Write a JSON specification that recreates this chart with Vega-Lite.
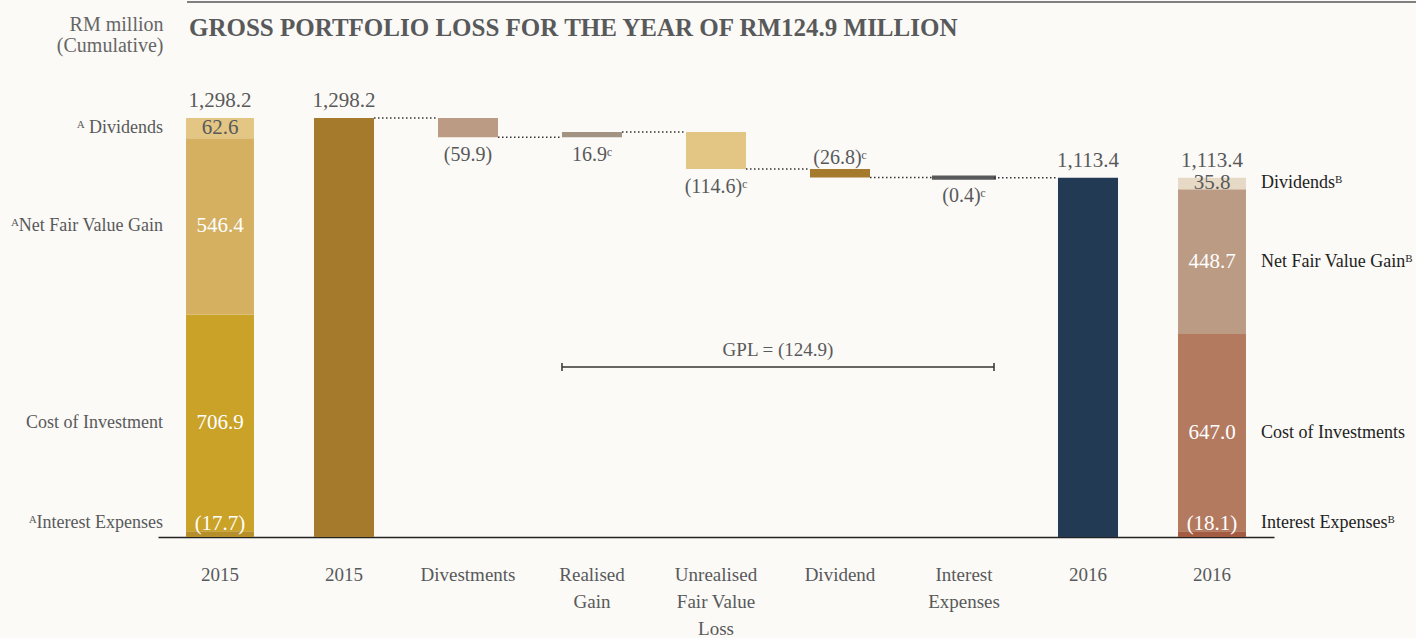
{
  "$schema": "https://vega.github.io/schema/vega-lite/v6.json",
  "width": 1116,
  "height": 477,
  "autosize": {"type": "none"},
  "padding": {"left": 158, "top": 60, "right": 142, "bottom": 101},
  "background": "#fbfaf6",
  "title": {
    "text": "GROSS PORTFOLIO LOSS FOR THE YEAR OF RM124.9 MILLION",
    "anchor": "start",
    "frame": "group",
    "dx": 31,
    "offset": -60,
    "baseline": "alphabetic",
    "font": "Liberation Serif",
    "fontSize": 25,
    "fontWeight": "bold",
    "color": "#58595b"
  },
  "config": {
    "view": {"stroke": null},
    "text": {"font": "Liberation Serif"},
    "axisX": {
      "domain": true,
      "domainColor": "#222222",
      "domainWidth": 1.5,
      "ticks": false,
      "tickSize": 0,
      "grid": false,
      "labelPadding": 28,
      "labelAngle": 0,
      "labelFont": "Liberation Serif",
      "labelFontSize": 19,
      "labelColor": "#58595b",
      "labelLineHeight": 27,
      "labelBaseline": "top",
      "labelExpr": "datum.value == 'Realised Gain' ? ['Realised', 'Gain'] : datum.value == 'Unrealised Fair Value Loss' ? ['Unrealised', 'Fair Value', 'Loss'] : datum.value == 'Interest Expenses' ? ['Interest', 'Expenses'] : replace(datum.value, ' composition', '')"
    },
    "axisY": {
      "labels": false,
      "ticks": false,
      "domain": false,
      "grid": false,
      "titleAngle": 0,
      "titleAlign": "right",
      "titleBaseline": "alphabetic",
      "titleX": 5,
      "titleY": -30,
      "titleFont": "Liberation Serif",
      "titleFontSize": 20,
      "titleFontWeight": "normal",
      "titleColor": "#666666",
      "titleLineHeight": 21
    }
  },
  "datasets": {
    "bars": [
      {"step": "2015 composition", "kind": "breakdown", "segment": "2015 Interest Expenses", "part": "Interest Expenses", "start": 0, "end": 17.7, "text": "(17.7)", "side": "ᴬInterest Expenses"},
      {"step": "2015 composition", "kind": "breakdown", "segment": "2015 Cost of Investment", "part": "Cost of Investment", "start": 17.7, "end": 689.2, "text": "706.9", "side": "Cost of Investment"},
      {"step": "2015 composition", "kind": "breakdown", "segment": "2015 Net Fair Value Gain", "part": "Net Fair Value Gain", "start": 689.2, "end": 1235.6, "text": "546.4", "side": "ᴬNet Fair Value Gain"},
      {"step": "2015 composition", "kind": "breakdown", "segment": "2015 Dividends", "part": "Dividends", "start": 1235.6, "end": 1298.2, "text": "62.6", "side": "ᴬ Dividends"},
      {"step": "2015", "kind": "waterfall", "segment": "2015", "part": "Total", "start": 0, "end": 1298.2, "text": "1,298.2", "side": ""},
      {"step": "Divestments", "kind": "waterfall", "segment": "Divestments", "part": "Change", "start": 1298.2, "end": 1238.3, "text": "(59.9)", "side": ""},
      {"step": "Realised Gain", "kind": "waterfall", "segment": "Realised Gain", "part": "Change", "start": 1238.3, "end": 1255.2, "text": "16.9ᶜ", "side": ""},
      {"step": "Unrealised Fair Value Loss", "kind": "waterfall", "segment": "Unrealised Fair Value Loss", "part": "Change", "start": 1255.2, "end": 1140.6, "text": "(114.6)ᶜ", "side": ""},
      {"step": "Dividend", "kind": "waterfall", "segment": "Dividend", "part": "Change", "start": 1140.6, "end": 1113.8, "text": "(26.8)ᶜ", "side": ""},
      {"step": "Interest Expenses", "kind": "waterfall", "segment": "Interest Expenses", "part": "Change", "start": 1113.8, "end": 1113.4, "text": "(0.4)ᶜ", "side": ""},
      {"step": "2016", "kind": "waterfall", "segment": "2016", "part": "Total", "start": 0, "end": 1113.4, "text": "1,113.4", "side": ""},
      {"step": "2016 composition", "kind": "breakdown", "segment": "2016 Interest Expenses", "part": "Interest Expenses", "start": 0, "end": 18.1, "text": "(18.1)", "side": "Interest Expensesᴮ"},
      {"step": "2016 composition", "kind": "breakdown", "segment": "2016 Cost of Investments", "part": "Cost of Investments", "start": 18.1, "end": 628.9, "text": "647.0", "side": "Cost of Investments"},
      {"step": "2016 composition", "kind": "breakdown", "segment": "2016 Net Fair Value Gain", "part": "Net Fair Value Gain", "start": 628.9, "end": 1077.6, "text": "448.7", "side": "Net Fair Value Gainᴮ"},
      {"step": "2016 composition", "kind": "breakdown", "segment": "2016 Dividends", "part": "Dividends", "start": 1077.6, "end": 1113.4, "text": "35.8", "side": "Dividendsᴮ"}
    ],
    "totals": [
      {"step": "2015 composition", "total": 1298.2},
      {"step": "2015", "total": 1298.2},
      {"step": "2016", "total": 1113.4},
      {"step": "2016 composition", "total": 1113.4}
    ],
    "connectors": [
      {"from": "2015", "to": "Divestments", "level": 1298.2},
      {"from": "Divestments", "to": "Realised Gain", "level": 1238.3},
      {"from": "Realised Gain", "to": "Unrealised Fair Value Loss", "level": 1255.2},
      {"from": "Unrealised Fair Value Loss", "to": "Dividend", "level": 1140.6},
      {"from": "Dividend", "to": "Interest Expenses", "level": 1113.8},
      {"from": "Interest Expenses", "to": "2016", "level": 1113.4}
    ]
  },
  "layer": [
    {
      "data": {"name": "bars"},
      "transform": [{"filter": "datum.kind == 'breakdown'"}],
      "mark": {"type": "bar", "width": {"band": 0.548}},
      "encoding": {
        "x": {
          "field": "step",
          "type": "nominal",
          "title": null,
          "scale": {
            "domain": ["2015 composition", "2015", "Divestments", "Realised Gain", "Unrealised Fair Value Loss", "Dividend", "Interest Expenses", "2016", "2016 composition"],
            "paddingInner": 0,
            "paddingOuter": 0
          }
        },
        "y": {
          "field": "start",
          "type": "quantitative",
          "title": ["RM million", "(Cumulative)"],
          "scale": {"domain": [0, 1478], "nice": false, "zero": false}
        },
        "y2": {"field": "end"},
        "color": {
          "field": "segment",
          "type": "nominal",
          "legend": null,
          "scale": {
            "domain": ["2015 Interest Expenses", "2015 Cost of Investment", "2015 Net Fair Value Gain", "2015 Dividends", "2015", "Divestments", "Realised Gain", "Unrealised Fair Value Loss", "Dividend", "Interest Expenses", "2016", "2016 Interest Expenses", "2016 Cost of Investments", "2016 Net Fair Value Gain", "2016 Dividends"],
            "range": ["#b68f2a", "#c9a227", "#d4b060", "#e3c684", "#a57a2c", "#bb9b83", "#a39382", "#e3c684", "#a57a2c", "#58595b", "#223a53", "#a35c41", "#b37a5f", "#bb9b83", "#e6d9c5"]
          }
        }
      }
    },
    {
      "data": {"name": "bars"},
      "transform": [{"filter": "datum.kind == 'waterfall'"}],
      "mark": {"type": "bar", "width": {"band": 0.484}, "stroke": "#58595b"},
      "encoding": {
        "x": {"field": "step", "type": "nominal", "title": null},
        "y": {"field": "start", "type": "quantitative", "title": ["RM million", "(Cumulative)"]},
        "y2": {"field": "end"},
        "color": {"field": "segment", "type": "nominal", "legend": null},
        "strokeWidth": {"condition": {"test": "datum.step == 'Interest Expenses'", "value": 4}, "value": 0}
      }
    },
    {
      "data": {"name": "connectors"},
      "mark": {"type": "rule", "strokeDash": [1.5, 2.5], "strokeWidth": 1.5, "color": "#333333"},
      "encoding": {
        "x": {"field": "from", "type": "nominal", "bandPosition": 0.742, "title": null},
        "x2": {"field": "to", "bandPosition": 0.258},
        "y": {"field": "level", "type": "quantitative", "title": ["RM million", "(Cumulative)"]}
      }
    },
    {
      "data": {"name": "bars"},
      "transform": [
        {"filter": "datum.kind == 'breakdown' && datum.part != 'Interest Expenses'"},
        {"calculate": "(datum.start + datum.end) / 2", "as": "mid"}
      ],
      "mark": {"type": "text", "baseline": "middle", "fontSize": 21},
      "encoding": {
        "x": {"field": "step", "type": "nominal", "title": null},
        "y": {"field": "mid", "type": "quantitative", "title": ["RM million", "(Cumulative)"]},
        "text": {"field": "text"},
        "color": {"condition": {"test": "datum.part == 'Dividends'", "value": "#58595b"}, "value": "#ffffff"}
      }
    },
    {
      "data": {"name": "bars"},
      "transform": [{"filter": "datum.kind == 'breakdown' && datum.part == 'Interest Expenses'"}],
      "mark": {"type": "text", "baseline": "bottom", "dy": -3, "fontSize": 21, "color": "#ffffff"},
      "encoding": {
        "x": {"field": "step", "type": "nominal", "title": null},
        "y": {"field": "start", "type": "quantitative", "title": ["RM million", "(Cumulative)"]},
        "text": {"field": "text"}
      }
    },
    {
      "data": {"name": "bars"},
      "transform": [
        {"filter": "datum.step == '2015 composition' && datum.part != 'Interest Expenses'"},
        {"calculate": "(datum.start + datum.end) / 2", "as": "mid"}
      ],
      "mark": {"type": "text", "baseline": "middle", "align": "right", "dx": -57, "fontSize": 18, "color": "#58595b"},
      "encoding": {
        "x": {"field": "step", "type": "nominal", "title": null},
        "y": {"field": "mid", "type": "quantitative", "title": ["RM million", "(Cumulative)"]},
        "text": {"field": "side"}
      }
    },
    {
      "data": {"name": "bars"},
      "transform": [{"filter": "datum.step == '2015 composition' && datum.part == 'Interest Expenses'"}],
      "mark": {"type": "text", "baseline": "bottom", "align": "right", "dx": -57, "dy": -5, "fontSize": 18, "color": "#58595b"},
      "encoding": {
        "x": {"field": "step", "type": "nominal", "title": null},
        "y": {"field": "start", "type": "quantitative", "title": ["RM million", "(Cumulative)"]},
        "text": {"field": "side"}
      }
    },
    {
      "data": {"name": "bars"},
      "transform": [
        {"filter": "datum.step == '2016 composition' && datum.part != 'Interest Expenses'"},
        {"calculate": "(datum.start + datum.end) / 2", "as": "mid"}
      ],
      "mark": {"type": "text", "baseline": "middle", "align": "left", "dx": 49, "fontSize": 18, "color": "#222222"},
      "encoding": {
        "x": {"field": "step", "type": "nominal", "title": null},
        "y": {"field": "mid", "type": "quantitative", "title": ["RM million", "(Cumulative)"]},
        "text": {"field": "side"}
      }
    },
    {
      "data": {"name": "bars"},
      "transform": [{"filter": "datum.step == '2016 composition' && datum.part == 'Interest Expenses'"}],
      "mark": {"type": "text", "baseline": "bottom", "align": "left", "dx": 49, "dy": -5, "fontSize": 18, "color": "#222222"},
      "encoding": {
        "x": {"field": "step", "type": "nominal", "title": null},
        "y": {"field": "start", "type": "quantitative", "title": ["RM million", "(Cumulative)"]},
        "text": {"field": "side"}
      }
    },
    {
      "data": {"name": "totals"},
      "mark": {"type": "text", "baseline": "alphabetic", "dy": -11, "fontSize": 21, "color": "#58595b"},
      "encoding": {
        "x": {"field": "step", "type": "nominal", "title": null},
        "y": {"field": "total", "type": "quantitative", "title": ["RM million", "(Cumulative)"]},
        "text": {"field": "total", "type": "quantitative", "format": ",.1f"}
      }
    },
    {
      "data": {"name": "bars"},
      "transform": [
        {"filter": "datum.part == 'Change' && datum.step != 'Dividend'"},
        {"calculate": "min(datum.start, datum.end)", "as": "low"}
      ],
      "mark": {"type": "text", "baseline": "top", "dy": 8, "fontSize": 20, "color": "#58595b"},
      "encoding": {
        "x": {"field": "step", "type": "nominal", "title": null},
        "y": {"field": "low", "type": "quantitative", "title": ["RM million", "(Cumulative)"]},
        "text": {"field": "text"}
      }
    },
    {
      "data": {"name": "bars"},
      "transform": [
        {"filter": "datum.step == 'Dividend'"},
        {"calculate": "max(datum.start, datum.end)", "as": "high"}
      ],
      "mark": {"type": "text", "baseline": "alphabetic", "dy": -5, "fontSize": 20, "color": "#58595b"},
      "encoding": {
        "x": {"field": "step", "type": "nominal", "title": null},
        "y": {"field": "high", "type": "quantitative", "title": ["RM million", "(Cumulative)"]},
        "text": {"field": "text"}
      }
    },
    {
      "data": {"values": [{"from": "Realised Gain", "to": "Interest Expenses"}]},
      "mark": {"type": "rule", "strokeWidth": 1.5, "color": "#333333"},
      "encoding": {
        "x": {"field": "from", "type": "nominal", "bandPosition": 0.258, "title": null},
        "x2": {"field": "to", "bandPosition": 0.742},
        "y": {"datum": 527, "title": ["RM million", "(Cumulative)"]}
      }
    },
    {
      "data": {"values": [{"tick": "Realised Gain"}]},
      "mark": {"type": "rule", "strokeWidth": 1.5, "color": "#333333"},
      "encoding": {
        "x": {"field": "tick", "type": "nominal", "bandPosition": 0.258, "title": null},
        "y": {"datum": 514.5, "title": ["RM million", "(Cumulative)"]},
        "y2": {"datum": 539.5}
      }
    },
    {
      "data": {"values": [{"tick": "Interest Expenses"}]},
      "mark": {"type": "rule", "strokeWidth": 1.5, "color": "#333333"},
      "encoding": {
        "x": {"field": "tick", "type": "nominal", "bandPosition": 0.742, "title": null},
        "y": {"datum": 514.5, "title": ["RM million", "(Cumulative)"]},
        "y2": {"datum": 539.5}
      }
    },
    {
      "data": {"values": [{"tick": "Realised Gain"}]},
      "mark": {"type": "text", "baseline": "alphabetic", "dy": -11, "fontSize": 19, "color": "#58595b", "text": "GPL = (124.9)"},
      "encoding": {
        "x": {"datum": "Dividend", "type": "nominal", "bandPosition": 0, "title": null},
        "y": {"datum": 527, "title": ["RM million", "(Cumulative)"]}
      }
    },
    {
      "data": {"values": [{"tick": "Realised Gain"}]},
      "mark": {"type": "rule", "strokeWidth": 2, "color": "#808080"},
      "encoding": {
        "x": {"datum": "2015 composition", "type": "nominal", "bandPosition": 0.234, "title": null},
        "x2": {"datum": "2016 composition", "bandPosition": 2.15},
        "y": {"datum": 1658, "title": ["RM million", "(Cumulative)"]}
      }
    }
  ]
}
